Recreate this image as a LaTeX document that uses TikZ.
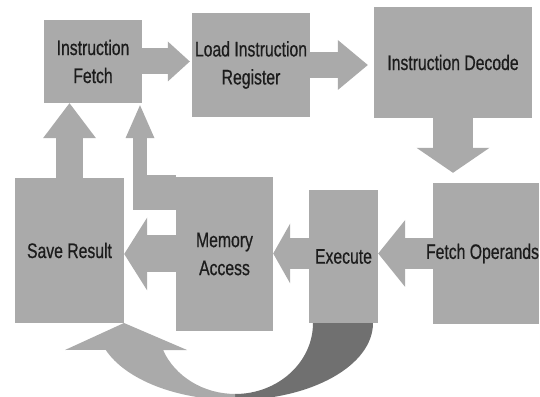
\documentclass[tikz,border=0pt]{standalone}
\usepackage{fontspec}
\setmainfont{Liberation Sans}[FakeStretch=0.75, FakeBold=0.6]
\usetikzlibrary{arrows.meta, backgrounds}
\definecolor{boxgray}{RGB}{170,170,170}
\definecolor{loopdark}{RGB}{112,112,112}
\definecolor{labelink}{RGB}{28,28,28}

\begin{document}
\begin{tikzpicture}[x=1pt, y=1pt,
  stage/.style={fill=boxgray, inner sep=0pt, align=center, text=labelink,
    font=\fontsize{21}{28}\selectfont},
  flow/.style={draw=boxgray, line width=#1}]
\useasboundingbox (0,0) rectangle (540,396);
\clip (0,0) rectangle (540,396);

% Draw stages
\node[stage, minimum width=98pt, minimum height=83pt] (IF) at (93,334.5) {Instruction\\Fetch};
\node[stage, minimum width=118pt, minimum height=104pt] (LIR) at (251,331) {Load Instruction\\Register};
\node[stage, minimum width=158pt, minimum height=111pt] (ID) at (453,333.5) {Instruction Decode};
\node[stage, minimum width=106pt, minimum height=141pt,
  label={[stage, fill=none, xshift=-3.5pt]center:Fetch Operands}] (FO) at (486,142.5) {};
\node[stage, minimum width=69pt, minimum height=133pt] (EX) at (343.5,139.5) {Execute};
\node[stage, minimum width=97pt, minimum height=154pt] (MA) at (224.5,142) {Memory\\Access};
\node[stage, minimum width=109pt, minimum height=145pt] (SR) at (69.5,145.5) {Save Result};

\begin{scope}[on background layer]
% Forward flow
\draw[flow=26pt, -{Triangle[width=40pt,length=22pt,line width=0pt]}, shorten >=2pt] (IF.east) -- (IF.east -| LIR.west);
\draw[flow=26pt, -{Triangle[width=50pt,length=30pt,line width=0pt]}, shorten >=6pt] (LIR.east) -- (LIR.east -| ID.west);
\draw[flow=40pt, -{Triangle[width=73pt,length=25pt,line width=0pt]}, shorten >=10pt] (ID.south) -- (ID.south |- FO.north);
\draw[flow=31pt, -{Triangle[width=67pt,length=27pt,line width=0pt]}] (FO.west) -- (FO.west -| EX.east);
\draw[flow=31pt, -{Triangle[width=60pt,length=17pt,line width=0pt]}] (EX.west |- FO.west) -- (MA.east |- FO.west);
\draw[flow=37pt, -{Triangle[width=73pt,length=23pt,line width=0pt]}] (MA.west) -- (MA.west -| SR.east);

% Back to fetch
\draw[flow=27pt, -{Triangle[width=53pt,length=35pt,line width=0pt]}] (SR.north) -- (SR.north |- IF.south);
\coordinate (bend) at (140,203.5);
\draw[flow=35pt] (MA.west |- bend) -- ([xshift=-7pt]bend);
\draw[flow=14pt, -{Triangle[width=29pt,length=33pt,line width=0pt]}, shorten >=2pt] ([yshift=-17.5pt]bend) -- (bend |- IF.south);

% Loop from execute to save result
\coordinate (loop) at (235,73);
\fill[loopdark] (loop) ++(0,-77) arc[start angle=270, end angle=360, x radius=138, y radius=77]
  -- ++(-60,0) arc[start angle=0, end angle=-90, x radius=78, y radius=71] -- cycle;
\fill[boxgray] (loop) ++(0,-77) arc[start angle=270, end angle=200.5, x radius=138, y radius=77]
  -- (65,46) -- (124,73) -- (187,46) -- (163,46)
  arc[start angle=202.4, end angle=270, x radius=78, y radius=71] -- cycle;
\end{scope}
\end{tikzpicture}
\end{document}
